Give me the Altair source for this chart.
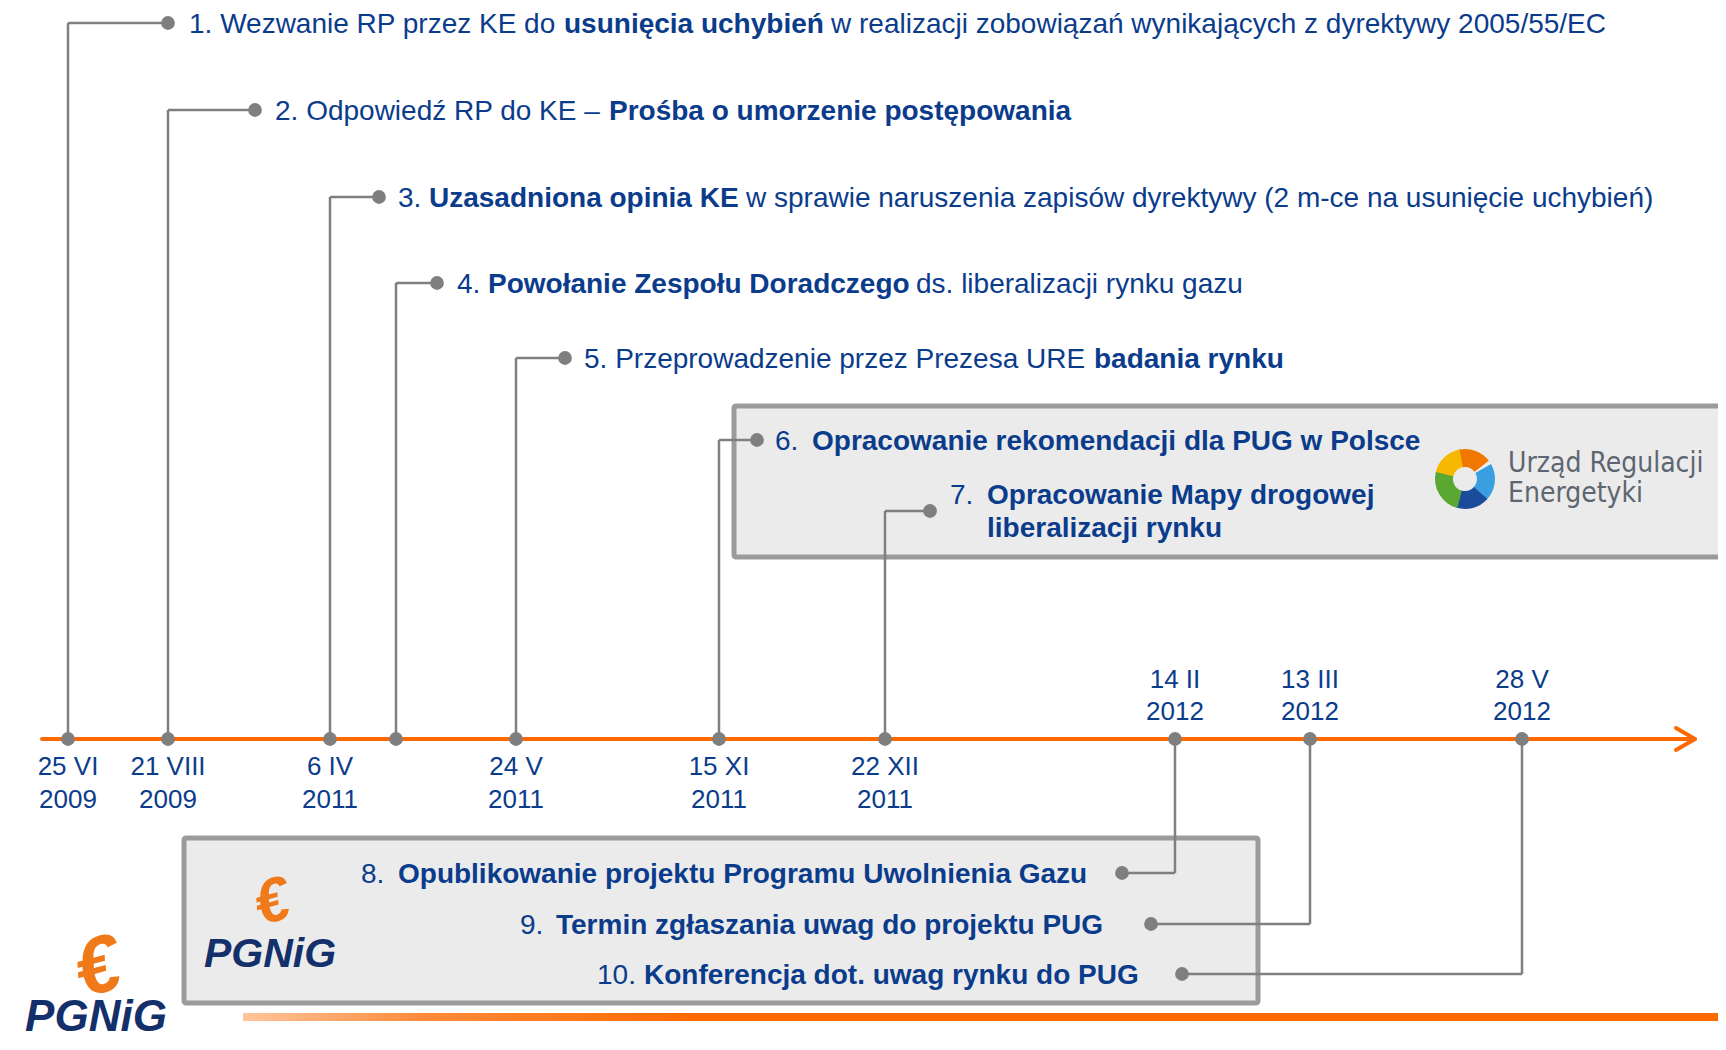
import altair as alt
import pandas as pd

# ---------------- data ----------------
date_day = ["25 VI", "21 VIII", "6 IV", "", "24 V", "15 XI", "22 XII", "14 II", "13 III", "28 V"]
date_year = ["2009", "2009", "2011", "", "2011", "2011", "2011", "2012", "2012", "2012"]
label_above = [False, False, False, False, False, False, False, True, True, True]

# layout of the timeline diagram (pixel units of the slide)
event_x = [68, 168, 330, 396, 516, 719, 885, 1175, 1310, 1522]
branch_y = [23, 110, 197, 283, 358, 440, 511, 873, 924, 974]
dot_x = [168, 255, 379, 437, 565, 757, 930, 1122, 1151, 1182]

seg_text = [
    "1. Wezwanie RP przez KE do", "usunięcia uchybień",
    "w realizacji zobowiązań wynikających z dyrektywy 2005/55/EC",
    "2. Odpowiedź RP do KE –", "Prośba o umorzenie postępowania",
    "3.", "Uzasadniona opinia KE",
    "w sprawie naruszenia zapisów dyrektywy (2 m-ce na usunięcie uchybień)",
    "4.", "Powołanie Zespołu Doradczego", "ds. liberalizacji rynku gazu",
    "5. Przeprowadzenie przez Prezesa URE", "badania rynku",
    "6.", "Opracowanie rekomendacji dla PUG w Polsce",
    "7.", "Opracowanie Mapy drogowej", "liberalizacji rynku",
    "8.", "Opublikowanie projektu Programu Uwolnienia Gazu",
    "9.", "Termin zgłaszania uwag do projektu PUG",
    "10.", "Konferencja dot. uwag rynku do PUG",
]
seg_bold = [False, True, False, False, True, False, True, False, False, True, False,
            False, True, False, True, False, True, True, False, True, False, True, False, True]
seg_x = [189, 564, 831, 275, 609, 398, 429, 746, 457, 488, 916, 584, 1094,
         775, 812, 950, 987, 987, 361, 398, 520, 556, 597, 644]
seg_y = [23, 23, 23, 110, 110, 197, 197, 197, 283, 283, 283, 358, 358,
         440, 440, 494, 494, 527, 873, 873, 924, 924, 974, 974]

NAVY = "#0b3c8c"
GRAY = "#7f7f7f"
ORANGE = "#ff6a00"

xs = alt.Scale(domain=[8, 1718], nice=False, zero=False)
ys = alt.Scale(domain=[1042, 8], nice=False, zero=False)


def X(f):
    return alt.X(f"{f}:Q", scale=xs, axis=None)


def Y(f):
    return alt.Y(f"{f}:Q", scale=ys, axis=None)


# boxes
boxes = pd.DataFrame({"x": [734, 184], "x2": [1745, 1258], "y": [406, 838], "y2": [557, 1003]})
box_layer = alt.Chart(boxes).mark_rect(
    fill="#ebebeb", stroke="#9b9b9b", strokeWidth=5, cornerRadius=2
).encode(x=X("x"), x2="x2", y=Y("y"), y2="y2")

# bottom orange stripe
stripe = pd.DataFrame({"x": [243], "x2": [1745], "y": [1013], "y2": [1021]})
stripe_layer = alt.Chart(stripe).mark_rect(
    fill=alt.Gradient(gradient="linear", x1=0, x2=1, y1=0, y2=0,
                      stops=[alt.GradientStop(color="#ffc59c", offset=0),
                             alt.GradientStop(color="#ff8a3a", offset=0.12),
                             alt.GradientStop(color=ORANGE, offset=0.3),
                             alt.GradientStop(color=ORANGE, offset=1)])
).encode(x=X("x"), x2="x2", y=Y("y"), y2="y2")

# connectors
TL_Y = 739
rows = []
for ex, by, dx in zip(event_x, branch_y, dot_x):
    rows.append({"x": ex, "x2": ex, "y": TL_Y, "y2": by})
    rows.append({"x": ex, "x2": dx, "y": by, "y2": by})
conn = pd.DataFrame(rows)
conn_layer = alt.Chart(conn).mark_rule(color=GRAY, strokeWidth=2.5).encode(
    x=X("x"), x2="x2", y=Y("y"), y2="y2")

# orange timeline with arrow
tl = pd.DataFrame({"x": [42, 1695, 1695], "x2": [1693, 1676, 1676],
                   "y": [TL_Y, TL_Y, TL_Y], "y2": [TL_Y, TL_Y - 11, TL_Y + 11]})
tl_layer = alt.Chart(tl).mark_rule(color=ORANGE, strokeWidth=4, strokeCap="round").encode(
    x=X("x"), x2="x2", y=Y("y"), y2="y2")

# dots
dots = pd.DataFrame({"x": event_x + dot_x, "y": [TL_Y] * len(event_x) + branch_y})
dot_layer = alt.Chart(dots).mark_circle(color=GRAY, size=190, opacity=1).encode(
    x=X("x"), y=Y("y"))

# event texts
segs = pd.DataFrame({"t": seg_text, "b": seg_bold, "x": seg_x, "y": seg_y})
txt_norm = alt.Chart(segs[~segs.b]).mark_text(
    align="left", baseline="middle", font="Liberation Sans", fontSize=28, color=NAVY, dy=2
).encode(x=X("x"), y=Y("y"), text="t:N")
txt_bold = alt.Chart(segs[segs.b]).mark_text(
    align="left", baseline="middle", font="Liberation Sans", fontSize=28,
    fontWeight="bold", color=NAVY, dy=2
).encode(x=X("x"), y=Y("y"), text="t:N")

# date labels
lab_rows = []
for ex, d, yr, up in zip(event_x, date_day, date_year, label_above):
    if not d:
        continue
    y1, y2 = (678, 710) if up else (765, 798)
    lab_rows.append({"x": ex, "y": y1, "t": d})
    lab_rows.append({"x": ex, "y": y2, "t": yr})
labs = pd.DataFrame(lab_rows)
lab_layer = alt.Chart(labs).mark_text(
    align="center", baseline="middle", font="Liberation Sans", fontSize=26, color=NAVY, dy=1.5
).encode(x=X("x"), y=Y("y"), text="t:N")

# logos
pg = pd.DataFrame({"x": [96, 270], "y": [1031, 967], "t": ["PGNiG", "PGNiG"], "s": [44, 41]})
pg_layer = alt.Chart(pg).mark_text(
    align="center", baseline="alphabetic", font="Liberation Sans", fontWeight="bold",
    fontStyle="italic", color="#13306a"
).encode(x=X("x"), y=Y("y"), text="t:N", size=alt.Size("s:Q", scale=None, legend=None))

flame = pd.DataFrame({"x": [104, 277], "y": [992, 921], "t": ["€", "€"], "s": [80, 62]})
flame_layer = alt.Chart(flame).mark_text(
    align="center", baseline="alphabetic", font="Liberation Sans", fontWeight="bold",
    fontStyle="italic", color="#f07a1a", angle=345
).encode(x=X("x"), y=Y("y"), text="t:N", size=alt.Size("s:Q", scale=None, legend=None))

ure_ring = pd.DataFrame({
    "x": [1465] * 5, "y": [479] * 5,
    "t1": [4.9, 6.1, 1.05, 2.3, 3.4],
    "t2": [6.15, 7.2, 2.35, 3.45, 4.95],
    "c": ["#f6b800", "#f07800", "#3a9fe0", "#1b4c9c", "#5aa832"],
})
ring_layer = alt.Chart(ure_ring).mark_arc(radius=30, radius2=12).encode(
    x=X("x"), y=Y("y"),
    theta=alt.Theta("t1:Q", scale=None, stack=None), theta2="t2:Q",
    color=alt.Color("c:N", scale=None, legend=None))

ure_txt = pd.DataFrame({"x": [1508, 1508], "y": [472, 502], "t": ["Urząd Regulacji", "Energetyki"]})
ure_layer = alt.Chart(ure_txt).mark_text(
    align="left", baseline="alphabetic", font="DejaVu Sans Condensed, DejaVu Sans",
    fontSize=28, color="#5d6670"
).encode(x=X("x"), y=Y("y"), text="t:N")

chart = alt.layer(
    box_layer, stripe_layer, conn_layer, tl_layer, dot_layer,
    txt_norm, txt_bold, lab_layer, pg_layer, flame_layer, ring_layer, ure_layer
).properties(
    width=1710, height=1034, padding=0, autosize=alt.AutoSizeParams(type="none"),
    background="white"
).configure_view(stroke=None)

chart.save("out.html", embed_options={"renderer": "svg", "actions": False})
